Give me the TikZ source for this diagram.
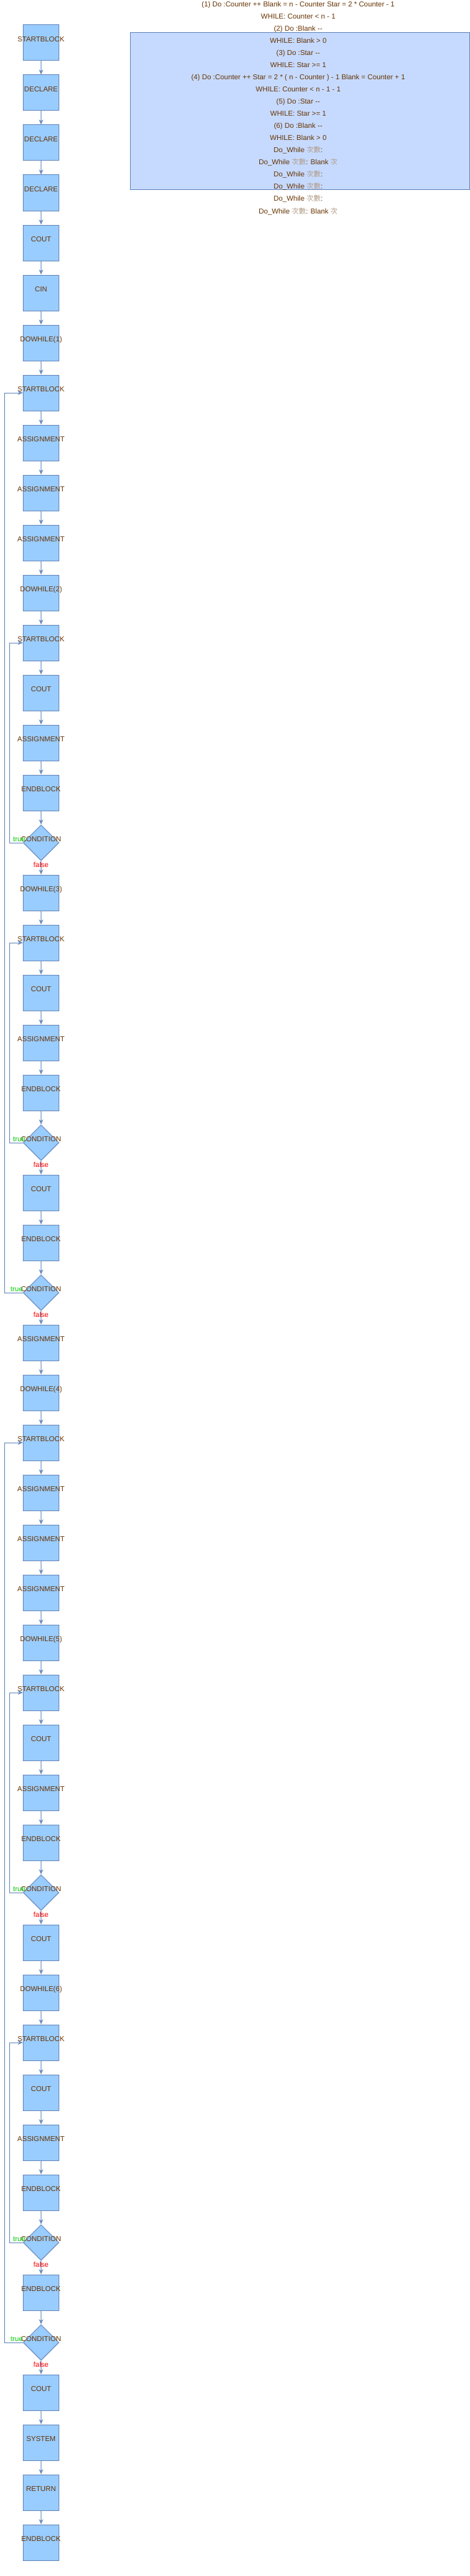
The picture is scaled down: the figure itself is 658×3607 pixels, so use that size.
\documentclass[tikz,border=0pt]{standalone}
\usepackage{fontspec}
\setmainfont{Liberation Sans}[Ligatures=TeXOff]
\newfontfamily\cjkfont{Noto Sans CJK TC}
\usetikzlibrary{shapes.geometric,arrows.meta}
\definecolor{boxfill}{RGB}{153,204,255}
\definecolor{edgec}{RGB}{108,142,191}
\definecolor{txt}{RGB}{102,51,0}
\definecolor{panelfill}{RGB}{198,218,255}
\definecolor{tgreen}{RGB}{0,204,0}
\definecolor{fred}{RGB}{255,0,0}
\definecolor{cjkc}{RGB}{178,155,132}
\newcommand\cjkcishu{{\cjkfont\color{cjkc}次數}}
\newcommand\cjkci{{\cjkfont\color{cjkc}次}}
\begin{document}
\begin{tikzpicture}[x=1pt,y=-1pt,
  every node/.style={font=\fontsize{10}{12}\selectfont},
  box/.style={shape=rectangle,draw=edgec,fill=boxfill,line width=1pt,minimum width=50pt,minimum height=50pt,inner sep=0pt},
  dia/.style={shape=diamond,draw=edgec,fill=boxfill,line width=1pt,minimum width=50pt,minimum height=50pt,inner sep=0pt},
  lbl/.style={text=txt,inner sep=0pt,text height=7.2pt,text depth=0pt,yshift=5pt},
  lab/.style={label={[lbl]center:#1}},
  arr/.style={draw=edgec,line width=1pt,-{Stealth[length=7pt,width=6pt,inset=2pt]}},
  tl/.style={text=tgreen,inner sep=0pt,text height=7.2pt,text depth=0pt},
  fl/.style={text=fred,inner sep=0pt,text height=7.2pt,text depth=0pt},
  note/.style={text=txt,anchor=base,inner sep=0pt},
  panel/.style={shape=rectangle,draw=edgec,fill=panelfill,line width=1pt,minimum width=474.5pt,minimum height=220pt,inner sep=0pt}
]
\useasboundingbox (0,0) rectangle (658,3607);
\fill[white] (0,0) rectangle (658,3607);

% panel and notes
\node[panel] (panel) at (419.75,156) {};
\foreach \t [count=\i] in {
  {(1) Do :Counter ++ Blank = n - Counter Star = 2 * Counter - 1},
  {WHILE: Counter < n - 1},
  {(2) Do :Blank --},
  {WHILE: Blank > 0},
  {(3) Do :Star --},
  {WHILE: Star >= 1},
  {(4) Do :Counter ++ Star = 2 * ( n - Counter ) - 1 Blank = Counter + 1},
  {WHILE: Counter < n - 1 - 1},
  {(5) Do :Star --},
  {WHILE: Star >= 1},
  {(6) Do :Blank --},
  {WHILE: Blank > 0},
  {Do\_While \cjkcishu:},
  {Do\_While \cjkcishu: Blank \cjkci},
  {Do\_While \cjkcishu:},
  {Do\_While \cjkcishu:},
  {Do\_While \cjkcishu:},
  {Do\_While \cjkcishu: Blank \cjkci}}
  {\node[note] (note\i) at (417.5,{10+17*(\i-1)}) {\t};}

% flow nodes
\node[box,lab=STARTBLOCK] (n0) at (57.5,60) {};
\node[box,lab=DECLARE] (n1) at (57.5,130) {};
\node[box,lab=DECLARE] (n2) at (57.5,200) {};
\node[box,lab=DECLARE] (n3) at (57.5,270) {};
\node[box,lab=COUT] (n4) at (57.5,340) {};
\node[box,lab=CIN] (n5) at (57.5,410) {};
\node[box,lab=DOWHILE(1)] (n6) at (57.5,480) {};
\node[box,lab=STARTBLOCK] (n7) at (57.5,550) {};
\node[box,lab=ASSIGNMENT] (n8) at (57.5,620) {};
\node[box,lab=ASSIGNMENT] (n9) at (57.5,690) {};
\node[box,lab=ASSIGNMENT] (n10) at (57.5,760) {};
\node[box,lab=DOWHILE(2)] (n11) at (57.5,830) {};
\node[box,lab=STARTBLOCK] (n12) at (57.5,900) {};
\node[box,lab=COUT] (n13) at (57.5,970) {};
\node[box,lab=ASSIGNMENT] (n14) at (57.5,1040) {};
\node[box,lab=ENDBLOCK] (n15) at (57.5,1110) {};
\node[dia,lab=CONDITION] (n16) at (57.5,1180) {};
\node[box,lab=DOWHILE(3)] (n17) at (57.5,1250) {};
\node[box,lab=STARTBLOCK] (n18) at (57.5,1320) {};
\node[box,lab=COUT] (n19) at (57.5,1390) {};
\node[box,lab=ASSIGNMENT] (n20) at (57.5,1460) {};
\node[box,lab=ENDBLOCK] (n21) at (57.5,1530) {};
\node[dia,lab=CONDITION] (n22) at (57.5,1600) {};
\node[box,lab=COUT] (n23) at (57.5,1670) {};
\node[box,lab=ENDBLOCK] (n24) at (57.5,1740) {};
\node[dia,lab=CONDITION] (n25) at (57.5,1810) {};
\node[box,lab=ASSIGNMENT] (n26) at (57.5,1880) {};
\node[box,lab=DOWHILE(4)] (n27) at (57.5,1950) {};
\node[box,lab=STARTBLOCK] (n28) at (57.5,2020) {};
\node[box,lab=ASSIGNMENT] (n29) at (57.5,2090) {};
\node[box,lab=ASSIGNMENT] (n30) at (57.5,2160) {};
\node[box,lab=ASSIGNMENT] (n31) at (57.5,2230) {};
\node[box,lab=DOWHILE(5)] (n32) at (57.5,2300) {};
\node[box,lab=STARTBLOCK] (n33) at (57.5,2370) {};
\node[box,lab=COUT] (n34) at (57.5,2440) {};
\node[box,lab=ASSIGNMENT] (n35) at (57.5,2510) {};
\node[box,lab=ENDBLOCK] (n36) at (57.5,2580) {};
\node[dia,lab=CONDITION] (n37) at (57.5,2650) {};
\node[box,lab=COUT] (n38) at (57.5,2720) {};
\node[box,lab=DOWHILE(6)] (n39) at (57.5,2790) {};
\node[box,lab=STARTBLOCK] (n40) at (57.5,2860) {};
\node[box,lab=COUT] (n41) at (57.5,2930) {};
\node[box,lab=ASSIGNMENT] (n42) at (57.5,3000) {};
\node[box,lab=ENDBLOCK] (n43) at (57.5,3070) {};
\node[dia,lab=CONDITION] (n44) at (57.5,3140) {};
\node[box,lab=ENDBLOCK] (n45) at (57.5,3210) {};
\node[dia,lab=CONDITION] (n46) at (57.5,3280) {};
\node[box,lab=COUT] (n47) at (57.5,3350) {};
\node[box,lab=SYSTEM] (n48) at (57.5,3420) {};
\node[box,lab=RETURN] (n49) at (57.5,3490) {};
\node[box,lab=ENDBLOCK] (n50) at (57.5,3560) {};

% sequential connectors
\foreach \a [evaluate=\a as \b using {int(\a+1)}] in {0,...,49}
  {\draw[arr] (n\a.south) -- (n\b.north);}

% loop-back connectors
\draw[arr] (n16.west) -- ([xshift=-18.5pt]n16.west) |- (n12.west);
\draw[arr] (n22.west) -- ([xshift=-18.5pt]n22.west) |- (n18.west);
\draw[arr] (n25.west) -- ([xshift=-26pt]n25.west) |- (n7.west);
\draw[arr] (n37.west) -- ([xshift=-18.5pt]n37.west) |- (n33.west);
\draw[arr] (n44.west) -- ([xshift=-18.5pt]n44.west) |- (n40.west);
\draw[arr] (n46.west) -- ([xshift=-26pt]n46.west) |- (n28.west);

% true / false labels
\foreach \d in {16,22,37,44}
  {\node[tl] (true\d) at ([xshift=-30.5pt,yshift=5pt]n\d.center) {true};}
\foreach \d in {25,46}
  {\node[tl] (true\d) at ([xshift=-34pt,yshift=5pt]n\d.center) {true};}
\foreach \d in {16,22,25,37,44,46}
  {\node[fl] (false\d) at ([yshift=-5.5pt]n\d.south) {false};}
\end{tikzpicture}
\end{document}
